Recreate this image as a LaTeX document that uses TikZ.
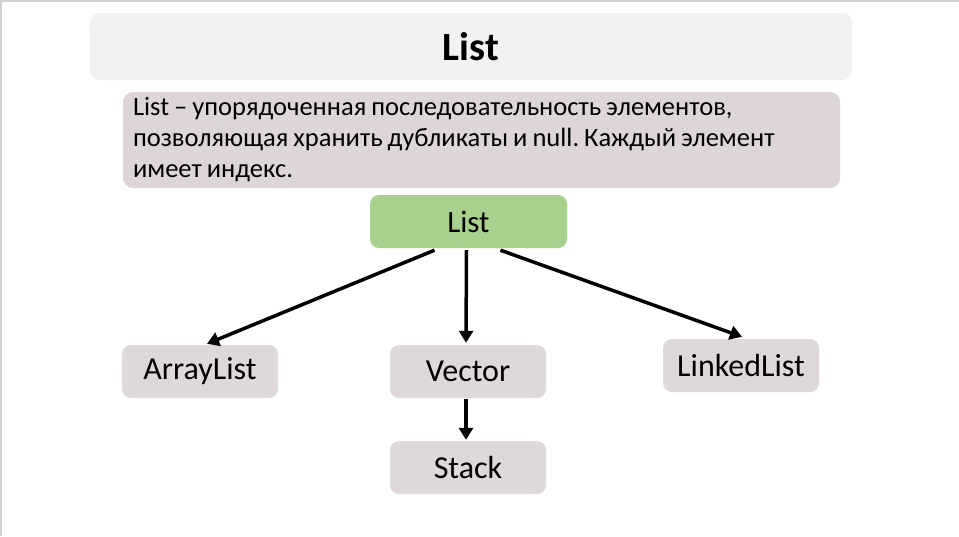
\documentclass[tikz,border=0pt]{standalone}
\usepackage{fontspec}
\setmainfont{Carlito}
\frenchspacing
\usetikzlibrary{arrows.meta}
\definecolor{titlebg}{HTML}{F3F1F2}
\definecolor{descbg}{HTML}{DDD5DA}
\definecolor{nodebg}{HTML}{DED7DB}
\definecolor{greenbg}{HTML}{A9D18E}
\definecolor{frame}{HTML}{D2D2D2}
\tikzset{
  box/.style={rectangle, rounded corners=9pt, inner sep=0pt, minimum width=156pt, minimum height=53pt, fill=nodebg, font=\fontsize{32}{36}\selectfont},
  arr/.style={line width=3.5pt, -{Triangle[length=12pt,width=14pt]}}
}
\begin{document}
\begin{tikzpicture}[x=1pt,y=-1pt]
\useasboundingbox (0,0) rectangle (959,536);
\fill[white] (0,0) rectangle (959,536);
\fill[frame] (0,0) rectangle (959,1.5);
\fill[frame] (0,0) rectangle (1.5,536);
\node[rectangle, rounded corners=10pt, fill=titlebg, minimum width=762pt, minimum height=67pt, inner sep=0pt, font=\fontsize{40}{44}\selectfont\bfseries] (title) at (471,46.5) {List};
\node[rectangle, rounded corners=10pt, fill=descbg, minimum width=717pt, minimum height=96pt, inner xsep=10pt, inner ysep=0pt, text width=697pt, align=left, font=\fontsize{26.5}{31}\selectfont] (desc) at (481.5,140) {\spaceskip=5pt\relax List – упорядоченная последовательность элементов,\\позволяющая хранить дубликаты и null. Каждый элемент\\имеет индекс.};
\node[box, fill=greenbg, minimum width=197pt, font=\fontsize{31}{36}\selectfont] (list) at (468.5,221.5) {List};
\node[box] (al) at (200,371.5) {ArrayList};
\node[box] (vec) at (468,371.5) {Vector};
\node[box] (ll) at (741,365.5) {LinkedList};
\node[box] (st) at (468,467.5) {Stack};
\draw[arr] ([xshift=-34pt,yshift=-2pt]list.south) -- ([xshift=7pt,yshift=1pt]al.north);
\draw[arr] ([xshift=-2pt,yshift=-2pt]list.south) -- ([xshift=-2pt,yshift=2pt]vec.north);
\draw[arr] ([xshift=32pt,yshift=-2pt]list.south) -- ([xshift=1pt,yshift=2pt]ll.north);
\draw[arr] ([xshift=-2pt,yshift=-1pt]vec.south) -- ([xshift=-2pt,yshift=1pt]st.north);
\end{tikzpicture}
\end{document}
